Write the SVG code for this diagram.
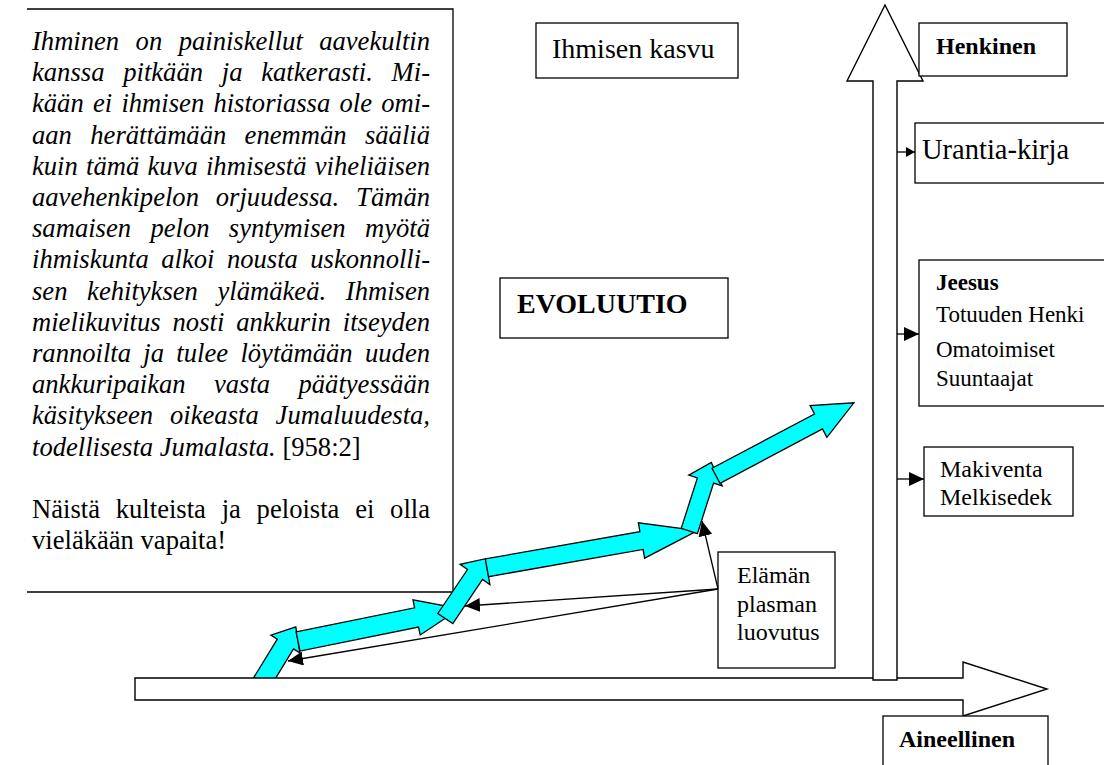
<svg xmlns="http://www.w3.org/2000/svg" width="1104" height="765" viewBox="0 0 1104 765">
<style>
.box{fill:#fff;stroke:#000;stroke-width:1.3}
.t{font-family:"Liberation Serif","Times New Roman",serif;fill:#000}
.body{font-size:26.6px}
.it{font-style:italic}
.b{font-weight:bold}
.cy{fill:#00ffff;stroke:#000;stroke-width:1.3;stroke-linejoin:miter}
.big{fill:#fff;stroke:#000;stroke-width:1.4}
.ln{fill:none;stroke:#000;stroke-width:1.3}
</style>
<defs>
<marker id="ah" viewBox="0 0 15 14" refX="15" refY="7" markerWidth="15" markerHeight="14" markerUnits="userSpaceOnUse" orient="auto"><path d="M0,0 L15,7 L0,14 z" fill="#000"/></marker>
<marker id="ahs" viewBox="0 0 9 10" refX="9" refY="5" markerWidth="9" markerHeight="10" markerUnits="userSpaceOnUse" orient="auto"><path d="M0,0 L9,5 L0,10 z" fill="#000"/></marker>
</defs>

<g id="quote">
<path class="box" d="M27,9 H453 V592 H27"/>
<g class="t body">
<text class="it" x="32" y="50" word-spacing="9.8" textLength="398" lengthAdjust="spacing">Ihminen on painiskellut aavekultin</text>
<text class="it" x="32" y="81.2" word-spacing="12.1" textLength="398" lengthAdjust="spacing">kanssa pitkään ja katkerasti. Mi-</text>
<text class="it" x="32" y="112.4" word-spacing="2.6" textLength="398" lengthAdjust="spacing">kään ei ihmisen historiassa ole omi-</text>
<text class="it" x="32" y="143.6" word-spacing="11.7" textLength="398" lengthAdjust="spacing">aan herättämään enemmän sääliä</text>
<text class="it" x="32" y="174.8" word-spacing="1.6" textLength="398" lengthAdjust="spacing">kuin tämä kuva ihmisestä viheliäisen</text>
<text class="it" x="32" y="206" word-spacing="10.2" textLength="398" lengthAdjust="spacing">aavehenkipelon orjuudessa. Tämän</text>
<text class="it" x="32" y="237.2" word-spacing="12.7" textLength="398" lengthAdjust="spacing">samaisen pelon syntymisen myötä</text>
<text class="it" x="32" y="268.4" word-spacing="5.8" textLength="398" lengthAdjust="spacing">ihmiskunta alkoi nousta uskonnolli-</text>
<text class="it" x="32" y="299.6" word-spacing="13" textLength="398" lengthAdjust="spacing">sen kehityksen ylämäkeä. Ihmisen</text>
<text class="it" x="32" y="330.8" word-spacing="5.3" textLength="398" lengthAdjust="spacing">mielikuvitus nosti ankkurin itseyden</text>
<text class="it" x="32" y="362" word-spacing="5.7" textLength="398" lengthAdjust="spacing">rannoilta ja tulee löytämään uuden</text>
<text class="it" x="32" y="393.2" word-spacing="21.7" textLength="398" lengthAdjust="spacing">ankkuripaikan vasta päätyessään</text>
<text class="it" x="32" y="424.4" word-spacing="10.2" textLength="398" lengthAdjust="spacing">käsitykseen oikeasta Jumaluudesta,</text>
<text x="32" y="455.6"><tspan class="it">todellisesta Jumalasta.</tspan> [958:2]</text>
<text x="32" y="518" word-spacing="9.1" textLength="398" lengthAdjust="spacing">Näistä kulteista ja peloista ei olla</text>
<text x="32" y="549">vieläkään vapaita!</text>
</g>
</g>

<g id="ihmisen-kasvu">
<rect class="box" x="536" y="23" width="202" height="55"/>
<text class="t" x="552" y="58" font-size="28">Ihmisen kasvu</text>
</g>

<g id="evoluutio">
<rect class="box" x="500" y="278" width="228" height="60"/>
<text class="t b" x="517" y="313" font-size="28">EVOLUUTIO</text>
</g>

<g id="growth-arrows">
<polygon class="cy" points="249.6,684.3 277.3,639.1 270.9,635.1 295.8,626.9 299.9,652.9 293.5,648.9 265.9,694.2"/>
<polygon class="cy" points="296.1,631.9 414.6,607.8 413.0,599.8 459.7,608.7 420.2,635.0 418.5,627.0 300.0,651.1"/>
<polygon class="cy" points="437.8,613.5 467.5,569.5 460.1,564.4 485.6,558.7 489.9,584.6 482.5,579.5 452.8,623.5"/>
<polygon class="cy" points="485.3,558.9 639.9,531.6 638.4,522.8 697.6,530.6 644.6,558.2 643.1,549.4 488.5,576.7"/>
<polygon class="cy" points="681.2,528.4 697.4,477.9 688.8,475.1 711.3,462.4 722.2,485.9 713.6,483.1 697.4,533.6"/>
<polygon class="cy" points="712.0,468.3 814.5,414.0 810.1,405.6 853.9,402.8 826.9,437.4 822.5,429.0 720.0,483.3"/>
</g>

<g id="axes">
<polygon class="big" points="135,678 963,678 963,662 1047,689 963,716 963,700 135,700"/>
<polygon class="big" points="873,680 873,81 847,81 885,5 923,81 897,81 897,680"/>
</g>

<g id="henkinen">
<rect class="box" x="919" y="23" width="148" height="53"/>
<text class="t b" x="936" y="54" font-size="24">Henkinen</text>
</g>

<g id="urantia">
<rect class="box" x="915" y="123" width="200" height="60"/>
<text class="t" x="922" y="159" font-size="28.5">Urantia-kirja</text>
</g>

<g id="jeesus">
<rect class="box" x="919" y="260" width="200" height="146"/>
<text class="t b" x="936" y="290" font-size="23">Jeesus</text>
<text class="t" x="936" y="322" font-size="23">Totuuden Henki</text>
<text class="t" x="936" y="357" font-size="23">Omatoimiset</text>
<text class="t" x="936" y="386" font-size="23">Suuntaajat</text>
</g>

<g id="makiventa">
<rect class="box" x="924" y="447" width="149" height="69"/>
<text class="t" x="940" y="477" font-size="24">Makiventa</text>
<text class="t" x="940" y="505" font-size="24">Melkisedek</text>
</g>

<g id="elaman">
<rect class="box" x="718" y="552" width="117" height="116"/>
<text class="t" x="737" y="583" font-size="24">Elämän</text>
<text class="t" x="737" y="612" font-size="24">plasman</text>
<text class="t" x="737" y="640" font-size="24">luovutus</text>
</g>

<g id="aineellinen">
<rect class="box" x="883" y="716" width="165" height="60"/>
<text class="t b" x="899" y="747" font-size="24">Aineellinen</text>
</g>

<g id="connectors">
<line class="ln" x1="897" y1="152" x2="915" y2="152" marker-end="url(#ahs)"/>
<line class="ln" x1="897" y1="334" x2="919" y2="334" marker-end="url(#ah)"/>
<line class="ln" x1="897" y1="479" x2="924" y2="479" marker-end="url(#ah)"/>
<line class="ln" x1="718" y1="589" x2="702" y2="521" marker-end="url(#ah)"/>
<line class="ln" x1="718" y1="589" x2="465" y2="606" marker-end="url(#ah)"/>
<line class="ln" x1="718" y1="589" x2="288" y2="661" marker-end="url(#ah)"/>
</g>
</svg>
